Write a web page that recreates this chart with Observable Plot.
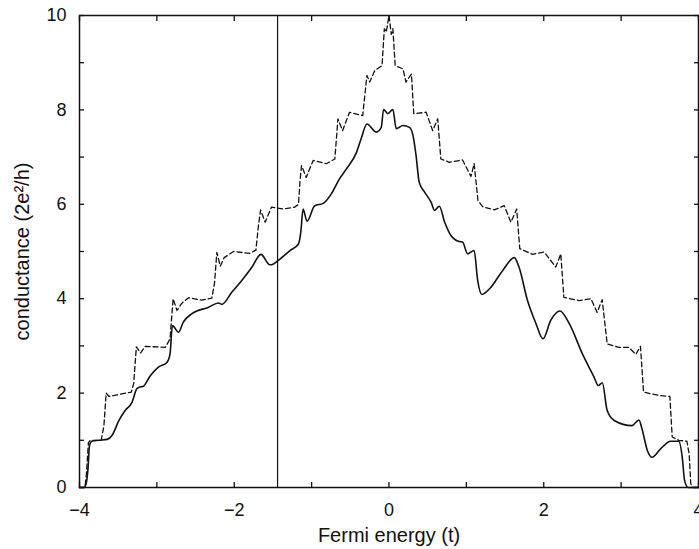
<!DOCTYPE html>
<html><head><meta charset="utf-8">
<script src="https://cdn.jsdelivr.net/npm/d3@7"></script>
<script src="https://cdn.jsdelivr.net/npm/@observablehq/plot@0.6"></script>
<style>body{margin:0;background:#fff} svg{display:block}</style>
</head><body><div id="chart"></div>
<script>
const solidEnergy = [-4.0,-3.945,-3.92,-3.89,-3.87,-3.84,-3.75,-3.64,-3.58,-3.49,-3.41,-3.32,-3.26,-3.22,-3.18,-3.085,-2.98,-2.87,-2.83,-2.80,-2.72,-2.66,-2.55,-2.33,-2.205,-2.16,-2.03,-1.90,-1.77,-1.655,-1.54,-1.52,-1.43,-1.28,-1.17,-1.14,-1.11,-1.06,-0.96,-0.85,-0.745,-0.64,-0.55,-0.42,-0.36,-0.285,-0.165,-0.10,-0.07,-0.015,0.05,0.094,0.18,0.265,0.31,0.35,0.39,0.46,0.545,0.59,0.65,0.72,0.80,0.91,0.95,1.017,1.10,1.146,1.20,1.30,1.47,1.62,1.68,1.79,1.90,1.99,2.09,2.21,2.33,2.50,2.65,2.705,2.757,2.82,2.91,3.14,3.23,3.27,3.34,3.40,3.51,3.64,3.745,3.79,3.82,3.865,4.0];
const solidConductance = [0,0,0.05,0.4,0.9,0.98,1.0,1.02,1.1,1.42,1.63,1.81,2.09,2.13,2.14,2.37,2.55,2.65,2.83,3.43,3.29,3.50,3.68,3.82,3.91,3.88,4.14,4.39,4.67,4.94,4.72,4.72,4.81,5.02,5.16,5.41,5.90,5.64,5.97,6.02,6.22,6.54,6.75,7.10,7.39,7.70,7.53,7.63,8.01,7.92,8.01,7.60,7.67,7.63,7.46,7.03,6.47,6.26,6.04,5.87,5.96,5.62,5.34,5.21,5.20,4.95,5.02,4.39,4.09,4.21,4.60,4.87,4.67,3.96,3.47,3.15,3.54,3.74,3.47,2.83,2.34,2.16,2.22,1.63,1.42,1.31,1.43,1.24,0.78,0.64,0.82,0.98,0.98,0.64,0.15,0.0,0];

const dashedEnergy = [-4.0,-3.93,-3.91,-3.885,-3.86,-3.72,-3.685,-3.655,-3.62,-3.55,-3.40,-3.33,-3.30,-3.265,-3.21,-3.15,-2.89,-2.83,-2.79,-2.74,-2.68,-2.59,-2.42,-2.29,-2.255,-2.225,-2.18,-2.13,-2.01,-1.80,-1.72,-1.69,-1.66,-1.60,-1.52,-1.37,-1.22,-1.17,-1.15,-1.13,-1.07,-0.98,-0.81,-0.70,-0.66,-0.60,-0.51,-0.34,-0.285,-0.25,-0.185,-0.09,-0.06,-0.035,0.0,0.03,0.05,0.08,0.18,0.22,0.29,0.32,0.48,0.565,0.63,0.67,0.78,0.95,1.06,1.10,1.15,1.21,1.36,1.49,1.575,1.65,1.69,1.855,2.005,2.155,2.22,2.26,2.455,2.61,2.69,2.755,2.82,2.97,3.10,3.19,3.25,3.29,3.49,3.63,3.66,3.745,3.85,3.88,3.90,3.92,4.0];
const dashedConductance = [0,0,0.3,0.95,1.0,1.0,1.3,2.0,1.93,1.95,2.0,2.02,2.20,2.98,2.85,2.99,2.97,3.15,4.00,3.75,3.90,4.02,3.97,4.01,4.33,4.98,4.69,4.87,5.0,4.96,5.03,5.51,5.88,5.62,5.94,5.90,5.94,6.0,6.5,6.82,6.57,6.93,6.86,6.96,7.81,7.56,7.95,7.88,8.73,8.59,8.83,8.94,9.72,9.65,10.0,9.6,9.72,8.94,8.87,8.59,8.76,7.92,7.95,7.56,7.81,6.96,6.89,6.94,6.59,6.86,6.08,5.95,5.88,5.97,5.62,5.90,5.06,4.94,4.99,4.67,4.95,4.03,3.96,4.0,3.71,3.98,3.04,2.97,2.97,2.82,2.99,2.02,1.95,1.93,1.07,1.0,0.98,0.7,0.08,0,0];

const markerEnergy = -1.44;
const xMajorTicks = [-4, -2, 0, 2, 4];
const xMinorTicks = [-4, -3, -2, -1, 0, 1, 2, 3, 4];
const yMajorTicks = [0, 2, 4, 6, 8, 10];
const yMinorTicks = [0, 1, 2, 3, 4, 5, 6, 7, 8, 9, 10];
const xLabel = "Fermi energy (t)";
const yLabel = "conductance (2e²/h)";

const solid = solidEnergy.map((x, i) => ({x, y: solidConductance[i]}));
const dashed = dashedEnergy.map((x, i) => ({x, y: dashedConductance[i]}));
const ink = "#111";
const tick = 5;

const chart = Plot.plot({
  width: 699,
  height: 549,
  marginLeft: 79,
  marginRight: 1,
  marginTop: 15,
  marginBottom: 62,
  style: {fontFamily: "'Liberation Sans', Arial, Helvetica, sans-serif", fontSize: "17px", background: "white", color: ink},
  x: {domain: [-4, 4]},
  y: {domain: [0, 10]},
  marks: [
    Plot.ruleX([markerEnergy], {stroke: ink, strokeWidth: 1.2}),
    Plot.line(dashed, {x: "x", y: "y", stroke: ink, strokeWidth: 1.3, strokeDasharray: "5,3"}),
    Plot.line(solid, {x: "x", y: "y", stroke: ink, strokeWidth: 1.6, curve: "monotone-x"}),
    Plot.axisX({ticks: xMinorTicks, anchor: "bottom", tickSize: tick, dy: -tick, fill: "none", label: null, strokeWidth: 1.3}),
    Plot.axisX({ticks: xMinorTicks, anchor: "top", tickSize: tick, dy: tick, fill: "none", label: null, strokeWidth: 1.3}),
    Plot.axisY({ticks: yMinorTicks, anchor: "left", tickSize: tick, dx: tick, fill: "none", label: null, strokeWidth: 1.3}),
    Plot.axisY({ticks: yMinorTicks, anchor: "right", tickSize: tick, dx: -tick, fill: "none", label: null, strokeWidth: 1.3}),
    Plot.axisX({ticks: xMajorTicks, anchor: "bottom", tickSize: 0, tickPadding: 16, label: null, fontSize: 18}),
    Plot.axisY({ticks: yMajorTicks, anchor: "left", tickSize: 0, tickPadding: 13, label: null, fontSize: 18}),
    Plot.frame({stroke: ink, strokeWidth: 1.5}),
    Plot.text([xLabel], {text: d => d, frameAnchor: "bottom", dy: 48, lineAnchor: "middle", textAnchor: "middle", fontSize: 20}),
    Plot.text([yLabel], {text: d => d, frameAnchor: "left", dx: -57, rotate: -90, lineAnchor: "middle", textAnchor: "middle", fontSize: 20})
  ]
});
document.getElementById("chart").appendChild(chart);
</script>
</body></html>
